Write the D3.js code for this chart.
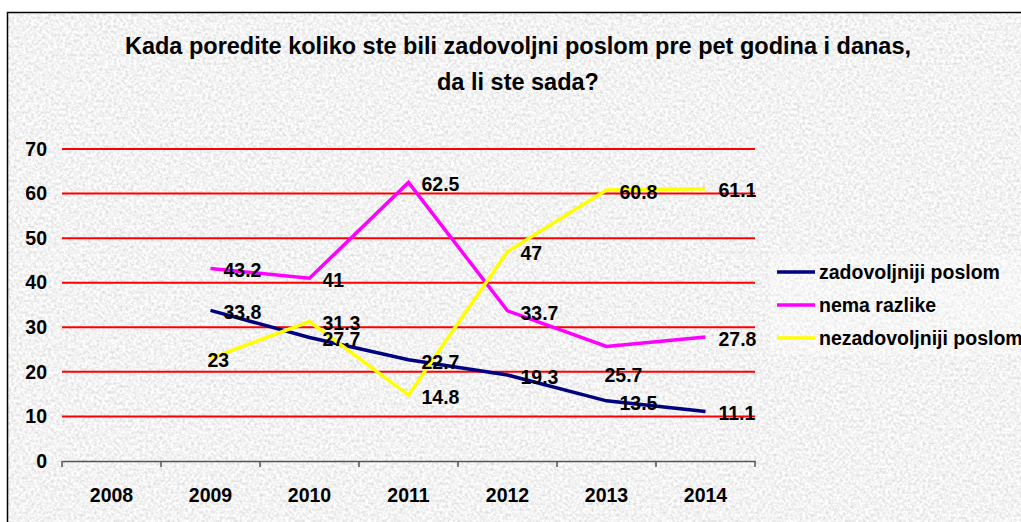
<!DOCTYPE html>
<html>
<head>
<meta charset="utf-8">
<script src="https://cdn.jsdelivr.net/npm/d3@7"></script>
<style>
  html, body { margin: 0; padding: 0; background: #fff; }
  svg { display: block; font-family: "Liberation Sans", Arial, sans-serif; }
</style>
</head>
<body>
<div id="chart"></div>
<script>
"use strict";

const years = ["2008", "2009", "2010", "2011", "2012", "2013", "2014"];
const zadovoljniji = [null, 33.8, 27.7, 22.7, 19.3, 13.5, 11.1];
const nemaRazlike = [null, 43.2, 41, 62.5, 33.7, 25.7, 27.8];
const nezadovoljniji = [null, 23, 31.3, 14.8, 47, 60.8, 61.1];
const seriesNames = ["zadovoljniji poslom", "nema razlike", "nezadovoljniji poslom"];
const yTicks = [0, 10, 20, 30, 40, 50, 60, 70];
const titleLines = ["Kada poredite koliko ste bili zadovoljni poslom pre pet godina i danas,", "da li ste sada?"];

const W = 1021, H = 522;
const margin = { left: 62, right: 266, top: 149, bottom: 61 };
const fs = 19.5;

const svg = d3.select("#chart").append("svg")
  .attr("width", W)
  .attr("height", H);

// granite-ish background
const defs = svg.append("defs");
const f = defs.append("filter").attr("id", "grain")
  .attr("x", 0).attr("y", 0).attr("width", "100%").attr("height", "100%");
f.append("feTurbulence").attr("type", "fractalNoise")
  .attr("baseFrequency", 0.35).attr("numOctaves", 3).attr("seed", 7).attr("result", "n");
f.append("feColorMatrix").attr("in", "n").attr("type", "matrix")
  .attr("values", "0.55 0 0 0 0.62  0.55 0 0 0 0.62  0.55 0 0 0 0.62  0 0 0 0 1");

svg.append("rect").attr("x", 7).attr("y", 12).attr("width", W).attr("height", H)
  .attr("fill", "#e8e8e8").attr("filter", "url(#grain)");
svg.append("rect").attr("x", 7.5).attr("y", 12.5).attr("width", W).attr("height", H)
  .attr("fill", "none").attr("stroke", "#000").attr("stroke-width", 1.5);

// title
svg.append("g").selectAll("text")
  .data(titleLines)
  .enter().append("text")
  .attr("x", 518)
  .attr("y", (d, i) => 54 + i * 36)
  .attr("text-anchor", "middle")
  .attr("font-size", 23.5)
  .attr("font-weight", "bold")
  .text(d => d);

const x = d3.scaleBand().domain(years)
  .range([margin.left, W - margin.right]);
const y = d3.scaleLinear().domain([0, 70])
  .range([H - margin.bottom, margin.top]);

// gridlines
svg.append("g").selectAll("line")
  .data(yTicks.filter(t => t > 0))
  .enter().append("line")
  .attr("x1", margin.left).attr("x2", W - margin.right)
  .attr("y1", d => y(d)).attr("y2", d => y(d))
  .attr("stroke", "#ff0000").attr("stroke-width", 2);

// y axis labels
const yAxis = svg.append("g")
  .attr("transform", `translate(${margin.left},0)`)
  .call(d3.axisLeft(y).tickValues(yTicks).tickSize(0).tickPadding(15));
yAxis.select(".domain").remove();
yAxis.selectAll("text")
  .attr("font-size", fs).attr("font-weight", "bold")
  .attr("font-family", "Liberation Sans, Arial, sans-serif")
  .attr("fill", "#000");

// x axis
const xAxis = svg.append("g")
  .attr("transform", `translate(0,${y(0)})`)
  .call(d3.axisBottom(x).tickSize(0).tickPadding(27));
xAxis.select(".domain").attr("stroke", "#555").attr("stroke-width", 1.5);
xAxis.selectAll("text")
  .attr("font-size", fs).attr("font-weight", "bold")
  .attr("font-family", "Liberation Sans, Arial, sans-serif")
  .attr("fill", "#000");
xAxis.selectAll(".bnd")
  .data(years.concat(["end"]))
  .enter().append("line")
  .attr("class", "bnd")
  .attr("x1", (d, i) => margin.left + i * x.bandwidth())
  .attr("x2", (d, i) => margin.left + i * x.bandwidth())
  .attr("y1", 0).attr("y2", 6)
  .attr("stroke", "#555").attr("stroke-width", 1.5);

const series = [
  { name: seriesNames[0], values: zadovoljniji, color: "#000080" },
  { name: seriesNames[1], values: nemaRazlike, color: "#ff00ff" },
  { name: seriesNames[2], values: nezadovoljniji, color: "#ffff00" }
];

const cx = i => x(years[i]) + x.bandwidth() / 2;
const line = d3.line()
  .defined(d => d != null)
  .x((d, i) => cx(i))
  .y(d => y(d));

svg.append("g").selectAll("path")
  .data(series)
  .enter().append("path")
  .attr("d", s => line(s.values))
  .attr("fill", "none")
  .attr("stroke", s => s.color)
  .attr("stroke-width", 3.5)
  .attr("stroke-linejoin", "miter");

// data labels (a couple were nudged in the original)
const labelNudge = { "2-1": [-16, 0], "1-5": [-15, 27] };
const labels = [];
series.forEach((s, si) => s.values.forEach((v, i) => {
  if (v == null) return;
  const n = labelNudge[si + "-" + i] || [0, 0];
  labels.push({ v, i, dx: 13 + n[0], dy: 2 + n[1] });
}));
svg.append("g").selectAll("text")
  .data(labels)
  .enter().append("text")
  .attr("x", d => cx(d.i) + d.dx)
  .attr("y", d => y(d.v) + d.dy)
  .attr("dy", "0.35em")
  .attr("font-size", fs).attr("font-weight", "bold")
  .text(d => d.v);

// legend
const legend = svg.append("g");
legend.append("rect")
  .attr("x", 770).attr("y", 255).attr("width", 260).attr("height", 100)
  .attr("fill", "#fff").attr("opacity", 0.3);
const li = legend.selectAll("g.item")
  .data(series)
  .enter().append("g")
  .attr("class", "item")
  .attr("transform", (d, i) => `translate(777,${272 + i * 33})`);
li.append("line")
  .attr("x1", 0).attr("x2", 38)
  .attr("stroke", d => d.color).attr("stroke-width", 3.5);
li.append("text")
  .attr("x", 42).attr("dy", "0.35em")
  .attr("font-size", fs).attr("font-weight", "bold")
  .text(d => d.name);
</script>
</body>
</html>
